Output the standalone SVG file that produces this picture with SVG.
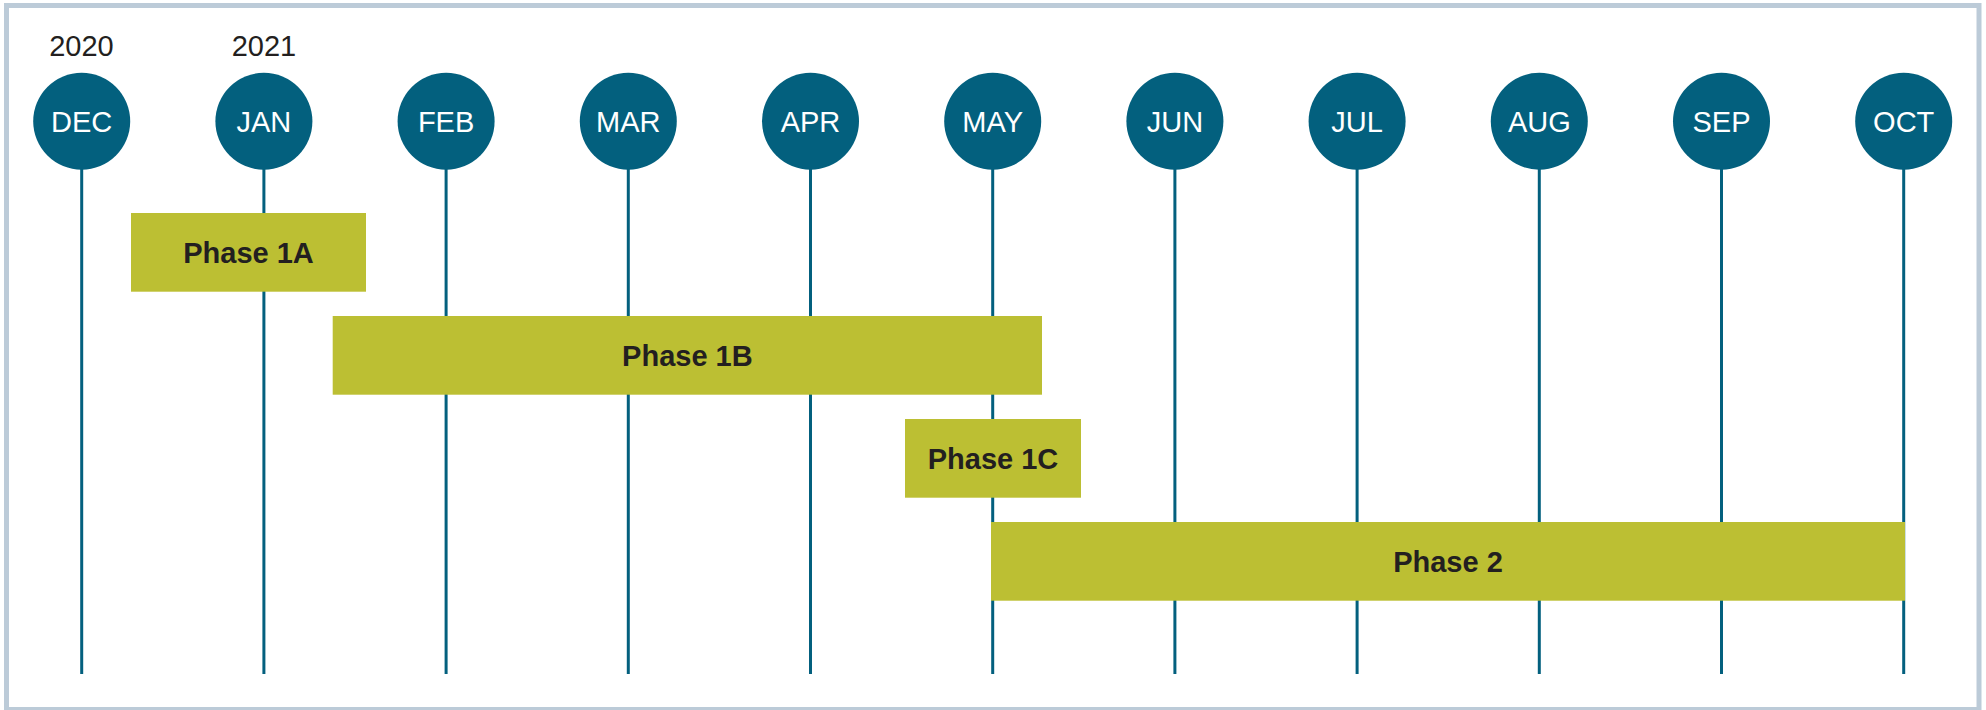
<svg xmlns="http://www.w3.org/2000/svg" width="1986" height="710" viewBox="0 0 1986 710">
<style>
.frame{fill:#ffffff;stroke:#bccbd8;stroke-width:5}
.conn{stroke:#03607e;stroke-width:3;fill:none}
.dot{fill:#03607e}
.mon{font-family:"Liberation Sans",Arial,sans-serif;font-size:29px;fill:#ffffff;text-anchor:middle}
.year{font-family:"Liberation Sans",Arial,sans-serif;font-size:29px;fill:#231f20;text-anchor:middle}
.bar{fill:#bcbf33}
.lbl{font-family:"Liberation Sans",Arial,sans-serif;font-size:29px;font-weight:bold;fill:#231f20;text-anchor:middle}
</style>
<rect class="frame" x="6.5" y="5.5" width="1972.5" height="704"/>
<g id="connectors">
<line class="conn" x1="81.7" y1="160" x2="81.7" y2="674"/>
<line class="conn" x1="263.9" y1="160" x2="263.9" y2="674"/>
<line class="conn" x1="446.1" y1="160" x2="446.1" y2="674"/>
<line class="conn" x1="628.3" y1="160" x2="628.3" y2="674"/>
<line class="conn" x1="810.5" y1="160" x2="810.5" y2="674"/>
<line class="conn" x1="992.7" y1="160" x2="992.7" y2="674"/>
<line class="conn" x1="1174.9" y1="160" x2="1174.9" y2="674"/>
<line class="conn" x1="1357.1" y1="160" x2="1357.1" y2="674"/>
<line class="conn" x1="1539.3" y1="160" x2="1539.3" y2="674"/>
<line class="conn" x1="1721.5" y1="160" x2="1721.5" y2="674"/>
<line class="conn" x1="1903.7" y1="160" x2="1903.7" y2="674"/>
</g>
<g id="years">
<text class="year" x="81.5" y="56">2020</text>
<text class="year" x="263.9" y="56">2021</text>
</g>
<g id="dec"><circle class="dot" cx="81.7" cy="121.3" r="48.5"/><text class="mon" x="81.7" y="131.7">DEC</text></g>
<g id="jan"><circle class="dot" cx="263.9" cy="121.3" r="48.5"/><text class="mon" x="263.9" y="131.7">JAN</text></g>
<g id="feb"><circle class="dot" cx="446.1" cy="121.3" r="48.5"/><text class="mon" x="446.1" y="131.7">FEB</text></g>
<g id="mar"><circle class="dot" cx="628.3" cy="121.3" r="48.5"/><text class="mon" x="628.3" y="131.7">MAR</text></g>
<g id="apr"><circle class="dot" cx="810.5" cy="121.3" r="48.5"/><text class="mon" x="810.5" y="131.7">APR</text></g>
<g id="may"><circle class="dot" cx="992.7" cy="121.3" r="48.5"/><text class="mon" x="992.7" y="131.7">MAY</text></g>
<g id="jun"><circle class="dot" cx="1174.9" cy="121.3" r="48.5"/><text class="mon" x="1174.9" y="131.7">JUN</text></g>
<g id="jul"><circle class="dot" cx="1357.1" cy="121.3" r="48.5"/><text class="mon" x="1357.1" y="131.7">JUL</text></g>
<g id="aug"><circle class="dot" cx="1539.3" cy="121.3" r="48.5"/><text class="mon" x="1539.3" y="131.7">AUG</text></g>
<g id="sep"><circle class="dot" cx="1721.5" cy="121.3" r="48.5"/><text class="mon" x="1721.5" y="131.7">SEP</text></g>
<g id="oct"><circle class="dot" cx="1903.7" cy="121.3" r="48.5"/><text class="mon" x="1903.7" y="131.7">OCT</text></g>
<g id="phase1a"><rect class="bar" x="131" y="213" width="235" height="78.7"/><text class="lbl" x="248.5" y="262.7">Phase 1A</text></g>
<g id="phase1b"><rect class="bar" x="332.7" y="316" width="709.3" height="78.7"/><text class="lbl" x="687.4" y="365.7">Phase 1B</text></g>
<g id="phase1c"><rect class="bar" x="905" y="419" width="176" height="78.7"/><text class="lbl" x="993" y="468.7">Phase 1C</text></g>
<g id="phase2"><rect class="bar" x="991" y="522" width="914" height="78.7"/><text class="lbl" x="1448" y="571.7">Phase 2</text></g>
</svg>
